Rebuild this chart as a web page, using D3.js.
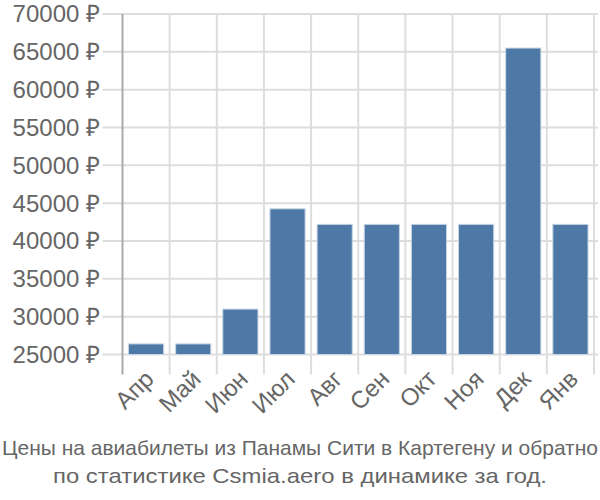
<!DOCTYPE html>
<html><head><meta charset="utf-8">
<script src="https://cdn.jsdelivr.net/npm/d3@7"></script>
<style>body{margin:0;background:#fff}svg{display:block}</style>
</head><body><svg id="c" width="600" height="500"></svg>
<script>
const months = ["Апр","Май","Июн","Июл","Авг","Сен","Окт","Ноя","Дек","Янв"];
const prices = [26400, 26400, 31000, 44250, 42200, 42200, 42200, 42200, 65500, 42200];
const yTicks = [25000,30000,35000,40000,45000,50000,55000,60000,65000,70000];
const titleLines = ["Цены на авиабилеты из Панамы Сити в Картегену и обратно","по статистике Csmia.aero в динамике за год."];

const svg = d3.select("#c");
const L = 122.5, R = 594, T = 14, B = 354.5;
const FONT = "'Liberation Sans', Arial, sans-serif";
const x = d3.scaleBand().domain(months).range([L, R]).paddingInner(0).paddingOuter(0);
const y = d3.scaleLinear().domain([25000, 70000]).range([B, T]);

// horizontal grid
svg.append("g").selectAll("line").data(yTicks).join("line")
  .attr("x1", L - 20).attr("x2", R + 4)
  .attr("y1", d => y(d)).attr("y2", d => y(d))
  .attr("stroke", "#dddddd").attr("stroke-width", 2);
// vertical grid
const bounds = months.map(m => x(m) + x.bandwidth()).slice(0, -1).concat([R]);
svg.append("g").selectAll("line").data(bounds).join("line")
  .attr("x1", d => d).attr("x2", d => d)
  .attr("y1", T).attr("y2", B + 20)
  .attr("stroke", "#dddddd").attr("stroke-width", 2);
// y axis line
svg.append("line").attr("x1", L).attr("x2", L).attr("y1", T).attr("y2", B + 20)
  .attr("stroke", "#aaaaaa").attr("stroke-width", 2);

// bars
const pad = 6;
svg.append("g").selectAll("rect").data(prices).join("rect")
  .attr("x", (d, i) => x(months[i]) + pad)
  .attr("width", x.bandwidth() - 2 * pad)
  .attr("y", d => y(d))
  .attr("height", d => B - y(d))
  .attr("fill", "#4e79a7")
  .attr("stroke", "#c6d4e3").attr("stroke-width", 1);

// y labels
svg.append("g").selectAll("text").data(yTicks).join("text")
  .attr("x", 100).attr("y", d => y(d)).attr("dy", "0.35em")
  .attr("text-anchor", "end")
  .attr("font-family", FONT).attr("font-size", 24)
  .attr("fill", "#666").text(d => d + " ₽");

// x labels
svg.append("g").selectAll("text").data(months).join("text")
  .attr("transform", d => `translate(${x(d) + x.bandwidth() / 2 + 9},${B + 26}) rotate(-45)`)
  .attr("text-anchor", "end")
  .attr("font-family", FONT).attr("font-size", 24)
  .attr("fill", "#666").text(d => d);

// title
const tl = [596, 494];
svg.append("g").selectAll("text").data(titleLines).join("text")
  .attr("x", 300).attr("y", (d, i) => 455 + i * 28)
  .attr("text-anchor", "middle")
  .attr("textLength", (d, i) => tl[i]).attr("lengthAdjust", "spacingAndGlyphs")
  .attr("font-family", FONT).attr("font-size", 21)
  .attr("fill", "#666").text(d => d);
</script></body></html>
